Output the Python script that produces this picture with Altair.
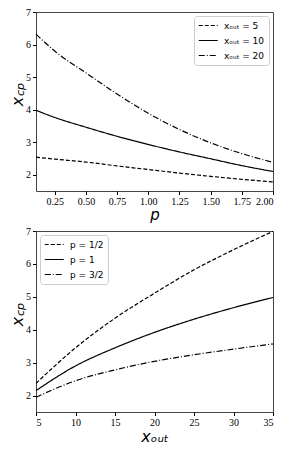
import altair as alt
import pandas as pd

# Top panel: x_cp vs p
p_vals = [0.1, 0.25, 0.5, 0.75, 1.0, 1.25, 1.5, 1.75, 2.0]
top_labels = ["xₒᵤₜ = 5", "xₒᵤₜ = 10", "xₒᵤₜ = 20"]
xcp_out5 = [2.54, 2.48, 2.39, 2.27, 2.16, 2.05, 1.95, 1.86, 1.78]
xcp_out10 = [3.98, 3.76, 3.46, 3.18, 2.93, 2.70, 2.49, 2.28, 2.10]
xcp_out20 = [6.32, 5.80, 5.13, 4.48, 3.89, 3.39, 2.98, 2.65, 2.38]

# Bottom panel: x_cp vs x_out
xout_vals = [5, 10, 15, 20, 25, 30, 35]
bot_labels = ["p = 1/2", "p = 1", "p = 3/2"]
xcp_p05 = [2.37, 3.45, 4.35, 5.11, 5.82, 6.43, 6.99]
xcp_p10 = [2.15, 2.90, 3.45, 3.92, 4.32, 4.67, 4.98]
xcp_p15 = [1.95, 2.45, 2.78, 3.04, 3.24, 3.41, 3.57]

dashes = [[4, 2], [1, 0], [6, 2, 1, 2]]

top_rows = []
for lab, ys in zip(top_labels, [xcp_out5, xcp_out10, xcp_out20]):
    for x, y in zip(p_vals, ys):
        top_rows.append({"p": x, "xcp": y, "series": lab})
top_df = pd.DataFrame(top_rows)

bot_rows = []
for lab, ys in zip(bot_labels, [xcp_p05, xcp_p10, xcp_p15]):
    for x, y in zip(xout_vals, ys):
        bot_rows.append({"xout": x, "xcp": y, "series": lab})
bot_df = pd.DataFrame(bot_rows)

W, H1, H2 = 237, 179, 181
TICK_FONT = "Liberation Serif"

yaxis = alt.Axis(values=[2, 3, 4, 5, 6, 7], format="d", title=None, grid=False,
                 labelFont=TICK_FONT, labelFontSize=10, labelColor="black",
                 tickColor="black", tickSize=3.5, domain=False, labelPadding=2)


def legend(orient):
    return alt.Legend(title=None, orient=orient, symbolType="M-1,0H3", symbolSize=90,
                      symbolStrokeWidth=1.2, symbolStrokeColor="black",
                      symbolFillColor="transparent",
                      labelFont="DejaVu Sans", labelFontSize=9, labelColor="black",
                      fillColor="white", strokeColor="#ccc", padding=4, cornerRadius=3,
                      rowPadding=4, offset=4, labelOffset=15)


def ytitle(h):
    t1 = alt.Chart().mark_text(angle=270, fontSize=16, font="DejaVu Sans", fontStyle="italic",
                               align="center", baseline="middle", color="black").encode(
        x=alt.value(-18), y=alt.value(h / 2), text=alt.value("x"))
    t2 = alt.Chart().mark_text(angle=270, fontSize=11, font="DejaVu Sans", fontStyle="italic",
                               align="center", baseline="middle", color="black").encode(
        x=alt.value(-15), y=alt.value(h / 2 - 12), text=alt.value("cp"))
    return t1, t2


top_lines = alt.Chart(top_df).mark_line(color="black", strokeWidth=1.2, interpolate="monotone").encode(
    x=alt.X("p:Q", scale=alt.Scale(domain=[0.1, 2.0], nice=False, zero=False),
            axis=alt.Axis(values=[0.25, 0.5, 0.75, 1.0, 1.25, 1.5, 1.75, 2.0], format=".2f",
                          title="p", titleFont="DejaVu Sans", titleFontStyle="italic",
                          titleFontSize=15, titleFontWeight="normal", titlePadding=1,
                          grid=False, labelFont=TICK_FONT, labelFontSize=10,
                          labelColor="black", tickColor="black", tickSize=3.5,
                          domain=False, labelPadding=2)),
    y=alt.Y("xcp:Q", scale=alt.Scale(domain=[1.5, 7], nice=False, zero=False), axis=yaxis),
    strokeDash=alt.StrokeDash("series:N", scale=alt.Scale(domain=top_labels, range=dashes),
                              legend=legend("top-right")),
)
t1, t2 = ytitle(H1)
top = alt.layer(top_lines, t1, t2).properties(width=W, height=H1)

bot_lines = alt.Chart(bot_df).mark_line(color="black", strokeWidth=1.2, interpolate="monotone").encode(
    x=alt.X("xout:Q", scale=alt.Scale(domain=[5, 35], nice=False, zero=False),
            axis=alt.Axis(values=[5, 10, 15, 20, 25, 30, 35], format="d",
                          title="xₒᵤₜ", titleFont="DejaVu Sans", titleFontStyle="italic",
                          titleFontSize=16, titleFontWeight="normal", titlePadding=1,
                          grid=False, labelFont=TICK_FONT, labelFontSize=10,
                          labelColor="black", tickColor="black", tickSize=3.5,
                          domain=False, labelPadding=2)),
    y=alt.Y("xcp:Q", scale=alt.Scale(domain=[1.5, 7], nice=False, zero=False), axis=yaxis),
    strokeDash=alt.StrokeDash("series:N", scale=alt.Scale(domain=bot_labels, range=dashes),
                              legend=legend("top-left")),
)
b1, b2 = ytitle(H2)
bottom = alt.layer(bot_lines, b1, b2).properties(width=W, height=H2)

chart = alt.vconcat(top, bottom, spacing=2).resolve_scale(strokeDash="independent").configure_view(
    stroke="#444", strokeWidth=1
).properties(padding={"left": 1, "top": -2, "right": 5, "bottom": 0})

chart.save("out.html", embed_options={"renderer": "svg", "actions": False})
